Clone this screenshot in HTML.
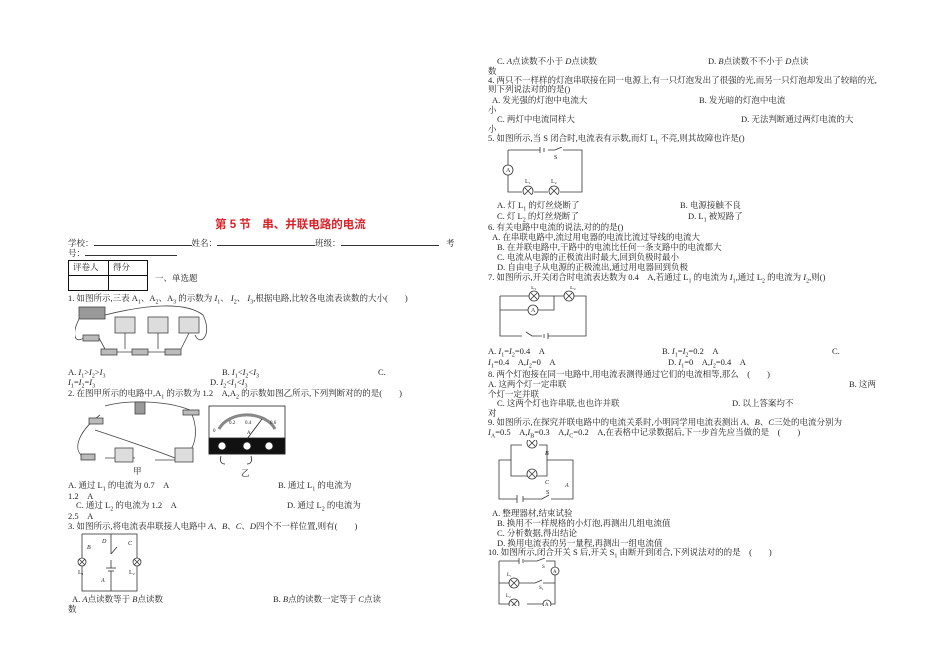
<!DOCTYPE html>
<html><head><meta charset="utf-8"><style>
body{margin:0;background:#fff;width:950px;height:672px;position:relative;overflow:hidden;font-family:"Liberation Serif","Noto Serif CJK SC",serif;color:#222}
.t{position:absolute;font-size:8.5px;line-height:9px;white-space:nowrap}
sub{font-size:6px}
i{font-style:italic}
svg{position:absolute}
</style></head><body>
<div class="t" style="left:215px;top:219px;font-size:11.5px;line-height:13px;color:#d8232a;font-weight:bold;font-family:'Liberation Sans','Noto Sans CJK SC',sans-serif">第 5 节　串、并联电路的电流</div>
<div class="t" style="left:68px;top:239px">学校：<span style="display:inline-block;width:98px;border-bottom:1px solid #333"></span>姓名：<span style="display:inline-block;width:98px;border-bottom:1px solid #333"></span>班级：<span style="display:inline-block;width:98px;border-bottom:1px solid #333"></span></div>
<div class="t" style="left:446px;top:239px">考</div>
<div class="t" style="left:68px;top:249px">号：<span style="display:inline-block;width:92px;border-bottom:1px solid #333"></span></div>
<div style="position:absolute;left:68px;top:260px;width:80px;height:31px;border:1.5px solid #111;box-sizing:border-box"></div>
<div style="position:absolute;left:68px;top:275px;width:80px;border-top:1px solid #111"></div>
<div style="position:absolute;left:108px;top:260px;height:31px;border-left:1px solid #111"></div>
<div class="t" style="left:73px;top:263px">评卷人</div><div class="t" style="left:113px;top:263px">得分</div>
<div class="t" style="left:155px;top:274px">一、单选题</div>
<div class="t" style="left:68px;top:294px">1.  如图所示,三表 A<sub>1</sub>、A<sub>2</sub>、A<sub>3</sub> 的示数为 <i>I</i><sub>1</sub>、 <i>I</i><sub>2</sub>、 <i>I</i><sub>3</sub>,根据电路,比较各电流表读数的大小(　　)</div>
<svg style="left:75px;top:305px" width="135" height="58" viewBox="0 0 135 58" fill="none" stroke="#444" stroke-width="0.8">
<rect x="4" y="2" width="26" height="12" fill="#999"/><path d="M4 14 C-4 30 0 40 10 32 M30 10 C70 0 110 -4 128 10 C138 30 125 42 120 30"/>
<rect x="40" y="12" width="20" height="16" fill="#ddd"/><rect x="73" y="12" width="20" height="16" fill="#ddd"/><rect x="104" y="12" width="20" height="16" fill="#ddd"/>
<rect x="8" y="30" width="16" height="6" fill="#bbb"/><rect x="26" y="44" width="16" height="6" fill="#bbb"/><rect x="57" y="44" width="16" height="6" fill="#bbb"/><rect x="90" y="44" width="16" height="6" fill="#bbb"/>
<path d="M24 33 L30 44 M42 47 L57 47 M73 47 L90 47 M50 28 L50 44 M83 28 L83 44 M114 28 L106 44"/></svg>
<div class="t" style="left:68px;top:368px">A.  <i>I</i><sub>1</sub>&gt;<i>I</i><sub>2</sub>&gt;<i>I</i><sub>3</sub></div>
<div class="t" style="left:222px;top:368px">B.  <i>I</i><sub>1</sub>&lt;<i>I</i><sub>2</sub>&lt;<i>I</i><sub>3</sub></div>
<div class="t" style="left:378px;top:368px">C.</div>
<div class="t" style="left:68px;top:378px"><i>I</i><sub>1</sub>=<i>I</i><sub>2</sub>=<i>I</i><sub>3</sub></div>
<div class="t" style="left:210px;top:378px">D.  <i>I</i><sub>2</sub>&lt;<i>I</i><sub>1</sub>&lt;<i>I</i><sub>3</sub></div>
<div class="t" style="left:68px;top:389px">2.  在图甲所示的电路中,A<sub>1</sub> 的示数为 1.2　A,A<sub>2</sub> 的示数如图乙所示,下列判断对的的是(　　)</div>
<svg style="left:75px;top:400px" width="130" height="70" viewBox="0 0 130 70" fill="none" stroke="#444" stroke-width="0.8">
<path d="M30 6 C50 0 90 0 115 10 C125 30 120 50 110 55 M25 15 C5 30 -5 50 10 58 M20 30 C50 40 80 50 100 58 M30 58 L60 58 M80 60 L100 60"/>
<rect x="60" y="2" width="10" height="12" fill="#999"/><rect x="108" y="10" width="16" height="5" fill="#bbb"/>
<rect x="14" y="18" width="14" height="6" fill="#bbb"/><rect x="6" y="54" width="14" height="6" fill="#bbb"/>
<rect x="40" y="48" width="18" height="14" fill="#ddd"/><rect x="100" y="48" width="18" height="14" fill="#ddd"/></svg>
<svg style="left:207px;top:404px" width="80" height="64" viewBox="0 0 80 64" stroke="#222" stroke-width="0.8">
<rect x="2" y="2" width="76" height="48" fill="#fff"/><path d="M12 25 A30 22 0 0 1 68 25" fill="none" stroke-width="3" stroke="#888"/>
<line x1="40" y1="35" x2="55" y2="15"/><rect x="2" y="34" width="76" height="16" fill="#111"/>
<circle cx="15" cy="42" r="4" fill="#fff"/><circle cx="40" cy="42" r="4" fill="#fff"/><circle cx="62" cy="42" r="4" fill="#fff"/>
<text x="6" y="28" font-size="5" stroke="none" fill="#222">0</text><text x="22" y="20" font-size="5" stroke="none" fill="#222">0.2</text><text x="38" y="20" font-size="5" stroke="none" fill="#222">0.4</text><text x="63" y="20" font-size="5" stroke="none" fill="#222">0.6</text><text x="40" y="30" font-size="5" stroke="none" fill="#222">A</text>
<path d="M14 52 Q12 60 18 60 M44 52 Q46 60 40 60" fill="none"/></svg>
<div class="t" style="left:133px;top:467px">甲</div><div class="t" style="left:241px;top:469px">乙</div>
<div class="t" style="left:68px;top:481px">A.  通过 L<sub>1</sub> 的电流为 0.7　A</div>
<div class="t" style="left:278px;top:481px">B.  通过 L<sub>1</sub> 的电流为</div>
<div class="t" style="left:68px;top:492px">1.2　A</div>
<div class="t" style="left:76px;top:501px">C.  通过 L<sub>2</sub> 的电流为 1.2　A</div>
<div class="t" style="left:287px;top:501px">D.  通过 L<sub>2</sub> 的电流为</div>
<div class="t" style="left:68px;top:512px">2.5　A</div>
<div class="t" style="left:68px;top:522px">3.  如图所示,将电流表串联接人电路中 <i>A</i>、<i>B</i>、<i>C</i>、<i>D</i>四个不一样位置,则有(　　)</div>
<svg style="left:75px;top:532px" width="70" height="62" viewBox="0 0 70 62" fill="none" stroke="#333" stroke-width="0.8">
<rect x="7" y="2" width="55" height="57"/><line x1="36" y1="2" x2="36" y2="22"/><line x1="36" y1="22" x2="42" y2="15"/><line x1="36" y1="28" x2="36" y2="36"/>
<line x1="31" y1="36" x2="41" y2="36"/><line x1="33" y1="39" x2="39" y2="39"/><line x1="36" y1="39" x2="36" y2="59"/>
<circle cx="7" cy="30" r="4" fill="#fff"/><circle cx="62" cy="30" r="4" fill="#fff"/><path d="M4 27 l6 6 M10 27 l-6 6 M59 27 l6 6 M65 27 l-6 6"/>
<g font-size="6" fill="#222" stroke="none" font-style="italic"><text x="12" y="17">B</text><text x="27" y="11">D</text><text x="53" y="13">C</text><text x="26" y="50">A</text><text x="3" y="42" font-style="normal">L₁</text><text x="54" y="42" font-style="normal">L₂</text></g></svg>
<div class="t" style="left:72px;top:595px">A.  <i>A</i>点读数等于 <i>B</i>点读数</div>
<div class="t" style="left:273px;top:595px">B.  <i>B</i>点的读数一定等于 <i>C</i>点读</div>
<div class="t" style="left:68px;top:605px">数</div>

<div class="t" style="left:497px;top:57px">C.  <i>A</i>点读数不小于 <i>D</i>点读数</div>
<div class="t" style="left:708px;top:57px">D.  <i>B</i>点读数不不小于 <i>D</i>点读</div>
<div class="t" style="left:488px;top:67px">数</div>
<div class="t" style="left:488px;top:76px">4.  两只不一样样的灯泡串联接在同一电源上,有一只灯泡发出了很强的光,而另一只灯泡却发出了较暗的光,</div>
<div class="t" style="left:488px;top:85px">则下列说法对的的是()</div>
<div class="t" style="left:492px;top:96px">A.  发光强的灯泡中电流大</div>
<div class="t" style="left:699px;top:96px">B.  发光暗的灯泡中电流</div>
<div class="t" style="left:488px;top:106px">小</div>
<div class="t" style="left:497px;top:115px">C.  两灯中电流同样大</div>
<div class="t" style="left:741px;top:115px">D.  无法判断通过两灯电流的大</div>
<div class="t" style="left:488px;top:125px">小</div>
<div class="t" style="left:488px;top:134px">5.  如图所示,当 S 闭合时,电流表有示数,而灯 L<sub>1</sub> 不亮,则其故障也许是()</div>
<svg style="left:500px;top:147px" width="90" height="48" viewBox="0 0 90 48" fill="none" stroke="#333" stroke-width="0.8">
<path d="M8 3 H40 M48 3 H55 L62 0 M63 3 H82 V45 H60 M48 45 H34 M22 45 H8 V28 M8 18 V3"/><line x1="40" y1="0" x2="40" y2="6"/><line x1="44" y1="1" x2="44" y2="5"/>
<circle cx="8" cy="23" r="5" fill="#fff"/><circle cx="28" cy="44" r="5" fill="#fff"/><circle cx="54" cy="44" r="5" fill="#fff"/><path d="M25 41 l6 6 M31 41 l-6 6 M51 41 l6 6 M57 41 l-6 6"/>
<g font-size="6" fill="#222" stroke="none"><text x="6" y="25">A</text><text x="54" y="12">S</text><text x="25" y="36">L₁</text><text x="51" y="36">L₂</text></g></svg>
<div class="t" style="left:497px;top:201px">A.  灯 L<sub>1</sub> 的灯丝烧断了</div>
<div class="t" style="left:680px;top:201px">B.  电源接触不良</div>
<div class="t" style="left:497px;top:212px">C.  灯 L<sub>2</sub> 的灯丝烧断了</div>
<div class="t" style="left:688px;top:212px">D.  L<sub>1</sub> 被短路了</div>
<div class="t" style="left:488px;top:223px">6.  有关电路中电流的说法,对的的是()</div>
<div class="t" style="left:492px;top:233px">A.  在串联电路中,流过用电器的电流比流过导线的电流大</div>
<div class="t" style="left:497px;top:243px">B.  在并联电路中,干路中的电流比任何一条支路中的电流都大</div>
<div class="t" style="left:497px;top:253px">C.  电流从电源的正极流出时最大,回到负极时最小</div>
<div class="t" style="left:497px;top:263px">D.  自由电子从电源的正极流出,通过用电器回到负极</div>
<div class="t" style="left:488px;top:273px">7.  如图所示,开关闭合时电流表达数为 0.4　A,若通过 L<sub>1</sub> 的电流为 <i>I</i><sub>1</sub>,通过 L<sub>2</sub> 的电流为 <i>I</i><sub>2</sub>,则()</div>
<svg style="left:498px;top:286px" width="90" height="56" viewBox="0 0 90 56" fill="none" stroke="#333" stroke-width="0.8">
<path d="M2 10 H31 M41 10 H66 M76 10 H88 V50 H50 M44 50 H34 L28 46 M24 50 H2 V10 M2 24 H30 M40 24 H56 V10"/><line x1="50" y1="47" x2="50" y2="53"/><line x1="46" y1="48" x2="46" y2="52"/>
<circle cx="36" cy="10" r="5" fill="#fff"/><circle cx="71" cy="10" r="5" fill="#fff"/><circle cx="35" cy="24" r="5" fill="#fff"/><path d="M33 7 l6 6 M39 7 l-6 6 M68 7 l6 6 M74 7 l-6 6"/>
<g font-size="6" fill="#222" stroke="none"><text x="33" y="26">A</text><text x="33" y="3">L₁</text><text x="72" y="3">L₂</text></g></svg>
<div class="t" style="left:488px;top:347px">A.  <i>I</i><sub>1</sub>=<i>I</i><sub>2</sub>=0.4　A</div>
<div class="t" style="left:662px;top:347px">B.  <i>I</i><sub>1</sub>=<i>I</i><sub>2</sub>=0.2　A</div>
<div class="t" style="left:832px;top:347px">C.</div>
<div class="t" style="left:488px;top:358px"><i>I</i><sub>1</sub>=0.4　A,<i>I</i><sub>2</sub>=0　A</div>
<div class="t" style="left:668px;top:358px">D.  <i>I</i><sub>1</sub>=0　A,<i>I</i><sub>2</sub>=0.4　A</div>
<div class="t" style="left:488px;top:370px">8.  两个灯泡接在同一电路中,用电流表测得通过它们的电流相等,那么　(　　)</div>
<div class="t" style="left:488px;top:380px">A.  这两个灯一定串联</div>
<div class="t" style="left:849px;top:380px">B.  这两</div>
<div class="t" style="left:488px;top:390px">个灯一定并联</div>
<div class="t" style="left:497px;top:399px">C.  这两个灯也许串联,也也许并联</div>
<div class="t" style="left:732px;top:399px">D.  以上答案均不</div>
<div class="t" style="left:488px;top:409px">对</div>
<div class="t" style="left:488px;top:418px">9.  如图所示,在探究并联电路中的电流关系时,小明同学用电流表测出 <i>A</i>、<i>B</i>、<i>C</i>三处的电流分别为</div>
<div class="t" style="left:488px;top:428px"><i>I</i><sub>A</sub>=0.5　A,<i>I</i><sub>B</sub>=0.3　A,<i>I</i><sub>C</sub>=0.2　A,在表格中记录数据后,下一步首先应当做的是　(　　)</div>
<svg style="left:497px;top:440px" width="80" height="64" viewBox="0 0 80 64" fill="none" stroke="#333" stroke-width="0.8">
<path d="M25 5 H14 V36 H30 M40 36 H50 V5 H42 M14 20 H2 V59 H20 M26 59 H45 L52 55 M54 59 H76 V20 H50"/><line x1="20" y1="55" x2="20" y2="63"/><line x1="26" y1="56" x2="26" y2="62"/>
<circle cx="35" cy="3" r="5" fill="#fff"/><circle cx="35" cy="34" r="5" fill="#fff"/><path d="M32 0 l6 6 M38 0 l-6 6 M32 31 l6 6 M38 31 l-6 6"/>
<g font-size="6" fill="#222" stroke="none" font-style="italic"><text x="48" y="15">B</text><text x="48" y="44">C</text><text x="68" y="47">A</text><text x="49" y="54" font-style="normal">S</text></g></svg>
<div class="t" style="left:492px;top:509px">A.  整理器材,结束试验</div>
<div class="t" style="left:497px;top:519px">B.  换用不一样规格的小灯泡,再测出几组电流值</div>
<div class="t" style="left:497px;top:529px">C.  分析数据,得出结论</div>
<div class="t" style="left:497px;top:539px">D.  换用电流表的另一量程,再测出一组电流值</div>
<div class="t" style="left:488px;top:548px">10.  如图所示,闭合开关 S 后,开关 S<sub>1</sub> 由断开到闭合,下列说法对的的是　(　　)</div>
<svg style="left:497px;top:558px" width="70" height="48" viewBox="0 0 70 48" fill="none" stroke="#333" stroke-width="0.8">
<path d="M2 3 H22 M27 3 H40 L48 0 M49 3 H58 V9 M58 17 V46 H54 M46 46 H30 M22 46 H2 V3 M2 25 H12 M22 25 H38 L45 22 M46 25 H58"/><line x1="22" y1="0" x2="22" y2="6"/><line x1="26" y1="1" x2="26" y2="5"/>
<circle cx="58" cy="13" r="4" fill="#fff"/><circle cx="17" cy="25" r="5" fill="#fff"/><circle cx="17" cy="46" r="5" fill="#fff"/><circle cx="50" cy="46" r="4" fill="#fff"/>
<path d="M14 22 l6 6 M20 22 l-6 6 M14 43 l6 6 M20 43 l-6 6"/>
<g font-size="5" fill="#222" stroke="none"><text x="56" y="15">A</text><text x="48" y="48">A</text><text x="45" y="10">S</text><text x="42" y="31">S₁</text><text x="10" y="18">L₁</text><text x="9" y="39">L₂</text></g></svg>
</body></html>
